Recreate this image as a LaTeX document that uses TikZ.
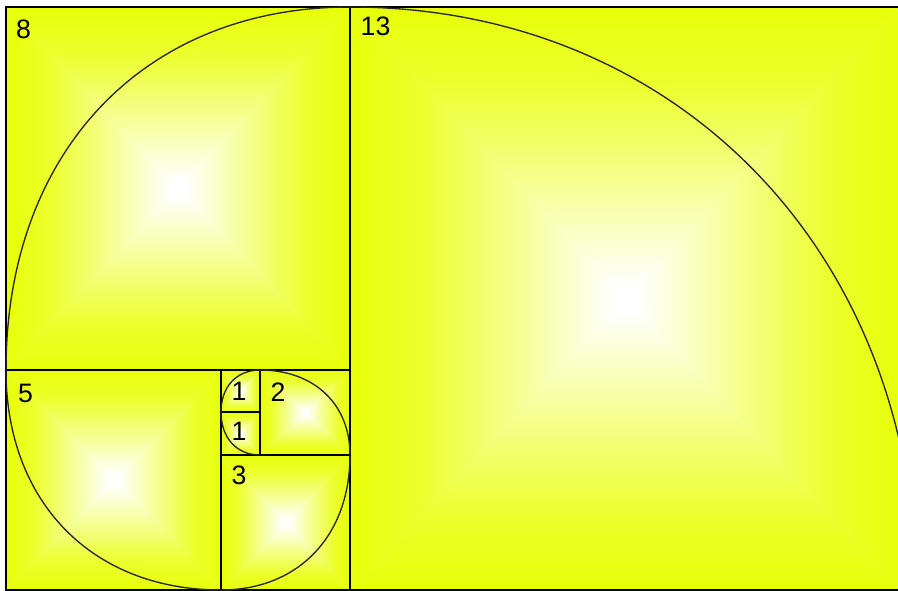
\documentclass[tikz,border=0pt]{standalone}
\usepackage{fontspec}
\setmainfont{Liberation Sans}
\usepackage{tikz}
\usepackage{xcolor}

\definecolor{fibyellow}{RGB}{232,255,8}
\pgfdeclareverticalshading{sqglow}{100bp}{color(0bp)=(white); color(27bp)=(white); color(45bp)=(fibyellow!45!white); color(62bp)=(fibyellow!85!white); color(75bp)=(fibyellow); color(100bp)=(fibyellow)}

% glowing square: four triangles, white in the middle
\newcommand{\goldsq}[4]{%
  \coordinate (m) at ({(#1+#3)/2},{(#2+#4)/2});
  \shade[shading=sqglow] (#1,#2) -- (#3,#2) -- (m) -- cycle;
  \shade[shading=sqglow,shading angle=90] (#1,#2) -- (#1,#4) -- (m) -- cycle;
  \shade[shading=sqglow,shading angle=180] (#1,#4) -- (#3,#4) -- (m) -- cycle;
  \shade[shading=sqglow,shading angle=270] (#3,#2) -- (#3,#4) -- (m) -- cycle;}

\begin{document}
\begin{tikzpicture}[x=0.75pt,y=-0.75pt,
    edge/.style={draw=black,line width=1.05pt},
    spiral/.style={draw=black!85,line width=1pt},
    lbl/.style={inner sep=0pt,font=\fontsize{20}{20}\selectfont}]
    \useasboundingbox (0,0) rectangle (898,591);
    \fill[white] (0,0) rectangle (898,591);
    \clip (0,0) rectangle (898,591);

    % Squares
    \goldsq{6}{7}{350}{370}
    \goldsq{350}{7}{901}{590}
    \goldsq{6}{370}{221}{590}
    \goldsq{221}{455}{350}{590}
    \goldsq{260}{370}{350}{455}
    \goldsq{221}{370}{260}{412}
    \goldsq{221}{412}{260}{455}

    \draw[edge] (6,7) rectangle (350,370);
    \draw[edge] (350,7) rectangle (901,590);
    \draw[edge] (6,370) rectangle (221,590);
    \draw[edge] (221,455) rectangle (350,590);
    \draw[edge] (260,370) rectangle (350,455);
    \draw[edge] (221,370) rectangle (260,412);
    \draw[edge] (221,412) rectangle (260,455);

    % Spiral
    \draw[spiral] (260,455)
        .. controls (236.6,455) and (221,437.8) .. (221,412)
        .. controls (221,386.8) and (236.6,370) .. (260,370)
        .. controls (314,370) and (350,404) .. (350,455)
        .. controls (350,536) and (298.4,590) .. (221,590)
        .. controls (92,590) and (6,502) .. (6,370)
        .. controls (6,152.2) and (143.6,7) .. (350,7)
        .. controls (680,7) and (916,256) .. (916,590);

    % Numbers
    \node[lbl] (n8) at (23.5,29) {8};
    \node[lbl] (n13) at (375.5,26.5) {13};
    \node[lbl] (n5) at (25.5,393) {5};
    \node[lbl] (n1a) at (239,391) {1};
    \node[lbl] (n1b) at (239,431) {1};
    \node[lbl] (n2) at (278,392) {2};
    \node[lbl] (n3) at (239,475) {3};
\end{tikzpicture}
\end{document}
